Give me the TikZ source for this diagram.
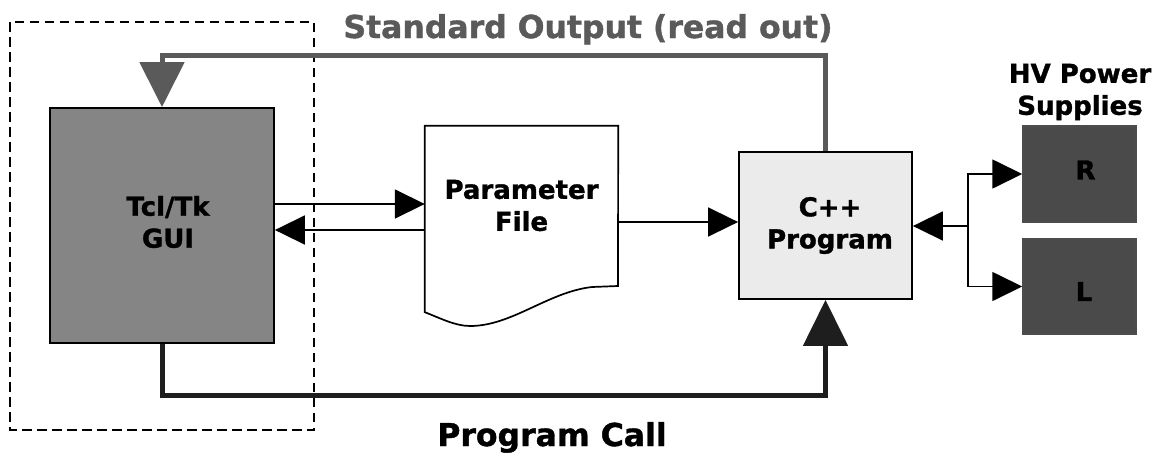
\documentclass[tikz,border=0pt]{standalone}
\usepackage{fontspec}
\setmainfont{DejaVu Sans}[BoldFeatures={FakeBold=1.2}]
\usetikzlibrary{arrows.meta,calc}
\definecolor{guigray}{HTML}{858585}
\definecolor{outgray}{HTML}{5A5A5A}
\definecolor{callblack}{HTML}{1E1E1E}
\definecolor{hvgray}{HTML}{4A4A4A}
\definecolor{cppgray}{HTML}{EBEBEB}
\tikzset{
  box/.style={draw=black, line width=1.8pt, inner sep=0pt},
  lbl/.style={font=\fontsize{26}{32}\selectfont\bfseries, align=center, inner sep=0pt},
  biglbl/.style={font=\fontsize{31.5}{36}\selectfont\bfseries, inner sep=0pt},
  thinarr/.style={line width=1.7pt, -{Triangle[length=30pt,width=29pt]}},
}
\begin{document}
\begin{tikzpicture}[x=1pt,y=-1pt]
\useasboundingbox (0,0) rectangle (1158,453);
% dashed frame
\draw[line width=2.5pt, dash pattern=on 9.5pt off 5.5pt] (10,22) rectangle (314,430);
% nodes
\node[box, fill=guigray, minimum width=224pt, minimum height=235pt] (gui) at (162,225.5) {};
\node[lbl] at ([xshift=6pt,yshift=3.5pt]gui.center) {Tcl/Tk\\GUI};
\node[minimum width=193pt, minimum height=186pt, inner sep=0pt] (param) at (521.5,219) {};
\draw[line width=1.7pt, fill=white] (param.south west) -- (param.north west) -- (param.north east) -- (618,286) -- (592,287)
   .. controls (548,292) and (512,326) .. (470,326) .. controls (455,326) and (440,318) .. (param.south west) -- cycle;
\node[lbl] at ([yshift=13.5pt]param.center) {Parameter\\File};
\node[box, fill=cppgray, minimum width=173pt, minimum height=147pt] (cpp) at (825.5,225.5) {};
\node[lbl] at ([xshift=4.5pt]cpp.center) {C++\\Program};
\node[box, line width=1.5pt, draw=black!70, fill=hvgray, minimum width=113pt, minimum height=96pt] (R) at (1079.5,174) {};
\node[lbl] at ([xshift=6pt,yshift=4pt]R.center) {R};
\node[box, line width=1.5pt, draw=black!70, fill=hvgray, minimum width=113pt, minimum height=95pt] (L) at (1079.5,286.5) {};
\node[lbl] at ([xshift=4.5pt,yshift=-5pt]L.center) {L};
\node[lbl] (hv) at (1080,92) {HV Power\\Supplies};
% labels
\node[biglbl, text=outgray, anchor=base] (so) at (588,38) {Standard Output (read out)};
\node[biglbl, text=black, anchor=base] (pc) at (552,446) {Program Call};
% connectors
\coordinate (top) at (162,55);
\draw[line width=5pt, draw=outgray, -{Triangle[length=45pt,width=44pt]}] (cpp.north) |- (top) -- (gui.north);
\coordinate (bot) at (0,395);
\draw[line width=5pt, draw=callblack, -{Triangle[length=46pt,width=44pt]}] (gui.south) -- (gui.south |- bot) -| (cpp.south);
\draw[thinarr] ([yshift=21.5pt]gui.east) -- ([yshift=21.5pt]gui.east -| param.west);
\draw[thinarr] ([yshift=-4.5pt]gui.east -| param.west) -- ([yshift=-4.5pt]gui.east);
\draw[thinarr] ([yshift=-3pt]param.east) -- ([yshift=-3pt]param.east -| cpp.west);
\coordinate (j) at (968,226);
\draw[thinarr] (j) -- (cpp.east |- j);
\draw[thinarr] (j) |- (R.west);
\draw[thinarr] (j) |- (L.west);
\end{tikzpicture}
\end{document}
